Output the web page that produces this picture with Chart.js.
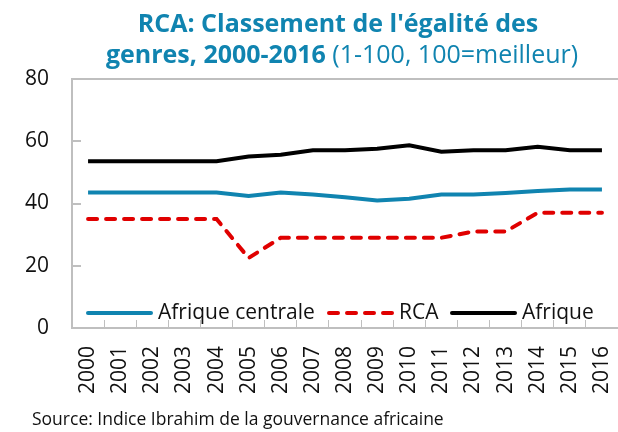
<!DOCTYPE html>
<html>
<head>
<meta charset="utf-8">
<script src="https://cdn.jsdelivr.net/npm/chart.js@4.4.0/dist/chart.umd.min.js"></script>
<style>
  html, body { margin: 0; padding: 0; background: #fff; }
  #wrap { width: 618px; height: 432px; }
</style>
</head>
<body>
<div id="wrap"><canvas id="chart"></canvas></div>
<script>
// Data
const years = ['2000', '2001', '2002', '2003', '2004', '2005', '2006', '2007', '2008',
               '2009', '2010', '2011', '2012', '2013', '2014', '2015', '2016'];
const afriqueCentrale = [43.5, 43.5, 43.5, 43.5, 43.5, 42.4, 43.5, 42.9, 42.0, 41.0, 41.5, 42.9, 42.9, 43.4, 44.0, 44.5, 44.5];
const rca = [35, 35, 35, 35, 35, 22.5, 29, 29, 29, 29, 29, 29, 31, 31, 37, 37, 37];
const afrique = [53.6, 53.6, 53.6, 53.6, 53.6, 55.1, 55.7, 57.1, 57.1, 57.6, 58.7, 56.6, 57.1, 57.1, 58.2, 57.1, 57.1];
const yMin = 0, yMax = 80, yStep = 20;

const FONT = "'Open Sans', sans-serif";
const TEAL = '#1084B0';
const AXIS = '#BFBFBF';

// Title with a bold part and a normal part on the second line
const titlePlugin = {
    id: 'mixedTitle',
    afterDraw(chart) {
        const ctx = chart.ctx;
        ctx.save();
        ctx.fillStyle = TEAL;
        ctx.textBaseline = 'alphabetic';
        ctx.textAlign = 'left';
        const bold = 'bold 25px ' + FONT;
        const normal = '25px ' + FONT;

        ctx.font = bold;
        const l1 = "RCA: Classement de l'égalité des";
        const w1 = ctx.measureText(l1).width;
        ctx.fillText(l1, 338 - w1 / 2, 32);

        const b2 = 'genres, 2000-2016 ';
        const n2 = '(1-100, 100=meilleur)';
        const wb = ctx.measureText(b2).width;
        ctx.font = normal;
        const wn = ctx.measureText(n2).width;
        const x0 = 342 - (wb + wn) / 2;
        ctx.font = bold;
        ctx.fillText(b2, x0, 63);
        ctx.font = normal;
        ctx.fillText(n2, x0 + wb, 63);
        ctx.restore();
    }
};

// Legend drawn inside the plot area, near the bottom
const legendPlugin = {
    id: 'innerLegend',
    afterDraw(chart) {
        const ctx = chart.ctx;
        const starts = [86, 327, 450];
        const y = 313;
        ctx.save();
        ctx.font = '21px ' + FONT;
        ctx.textBaseline = 'middle';
        ctx.fillStyle = '#111';
        chart.data.datasets.forEach((ds, i) => {
            const x = starts[i];
            ctx.beginPath();
            ctx.strokeStyle = ds.borderColor;
            ctx.lineWidth = ds.borderWidth;
            ctx.lineCap = 'round';
            ctx.setLineDash(ds.borderDash || []);
            ctx.moveTo(x + 2, y);
            ctx.lineTo(x + 65, y);
            ctx.stroke();
            ctx.setLineDash([]);
            ctx.fillText(ds.label, x + 72, y);
        });
        ctx.restore();
    }
};

const sourcePlugin = {
    id: 'source',
    afterDraw(chart) {
        const ctx = chart.ctx;
        ctx.save();
        ctx.font = '17.5px ' + FONT;
        ctx.fillStyle = '#111';
        ctx.textBaseline = 'alphabetic';
        ctx.fillText('Source: Indice Ibrahim de la gouvernance africaine', 32, 425);
        ctx.restore();
    }
};

new Chart(document.getElementById('chart'), {
    type: 'line',
    data: {
        labels: years,
        datasets: [{
            label: 'Afrique centrale',
            data: afriqueCentrale,
            borderColor: '#1084B0',
            borderWidth: 4,
            pointRadius: 0,
            tension: 0
        }, {
            label: 'RCA',
            data: rca,
            borderColor: '#E00000',
            borderWidth: 4,
            borderDash: [9, 9],
            borderCapStyle: 'round',
            pointRadius: 0,
            tension: 0
        }, {
            label: 'Afrique',
            data: afrique,
            borderColor: '#000000',
            borderWidth: 4,
            pointRadius: 0,
            tension: 0
        }]
    },
    options: {
        responsive: true,
        maintainAspectRatio: false,
        animation: false,
        layout: { padding: { top: 79, left: 0, right: 0, bottom: 0 } },
        plugins: {
            legend: { display: false },
            title: { display: false },
            tooltip: { enabled: false }
        },
        scales: {
            x: {
                offset: true,
                grid: {
                    offset: true,
                    drawOnChartArea: false,
                    tickLength: -8,
                    color: AXIS,
                    lineWidth: 1
                },
                border: { color: AXIS, width: 2 },
                ticks: {
                    minRotation: 90,
                    maxRotation: 90,
                    padding: 26,
                    color: '#111',
                    font: { family: FONT, size: 21 }
                },
                afterFit: s => {
                    s.height = 104;
                    s.paddingLeft = 0;
                    s.paddingRight = 0;
                }
            },
            x2: {
                type: 'category',
                labels: years,
                position: 'top',
                grid: { display: false, drawTicks: false },
                border: { color: AXIS, width: 2 },
                ticks: { display: false },
                afterFit: s => {
                    s.height = 0;
                    s.paddingLeft = 0;
                    s.paddingRight = 0;
                }
            },
            y: {
                min: yMin,
                max: yMax,
                grid: {
                    drawOnChartArea: false,
                    tickLength: -9,
                    color: AXIS,
                    lineWidth: 2
                },
                border: { color: AXIS, width: 2 },
                ticks: {
                    stepSize: yStep,
                    padding: 32,
                    color: '#111',
                    font: { family: FONT, size: 21 }
                },
                afterFit: s => { s.width = 72; }
            }
        }
    },
    plugins: [titlePlugin, legendPlugin, sourcePlugin]
});
</script>
</body>
</html>
